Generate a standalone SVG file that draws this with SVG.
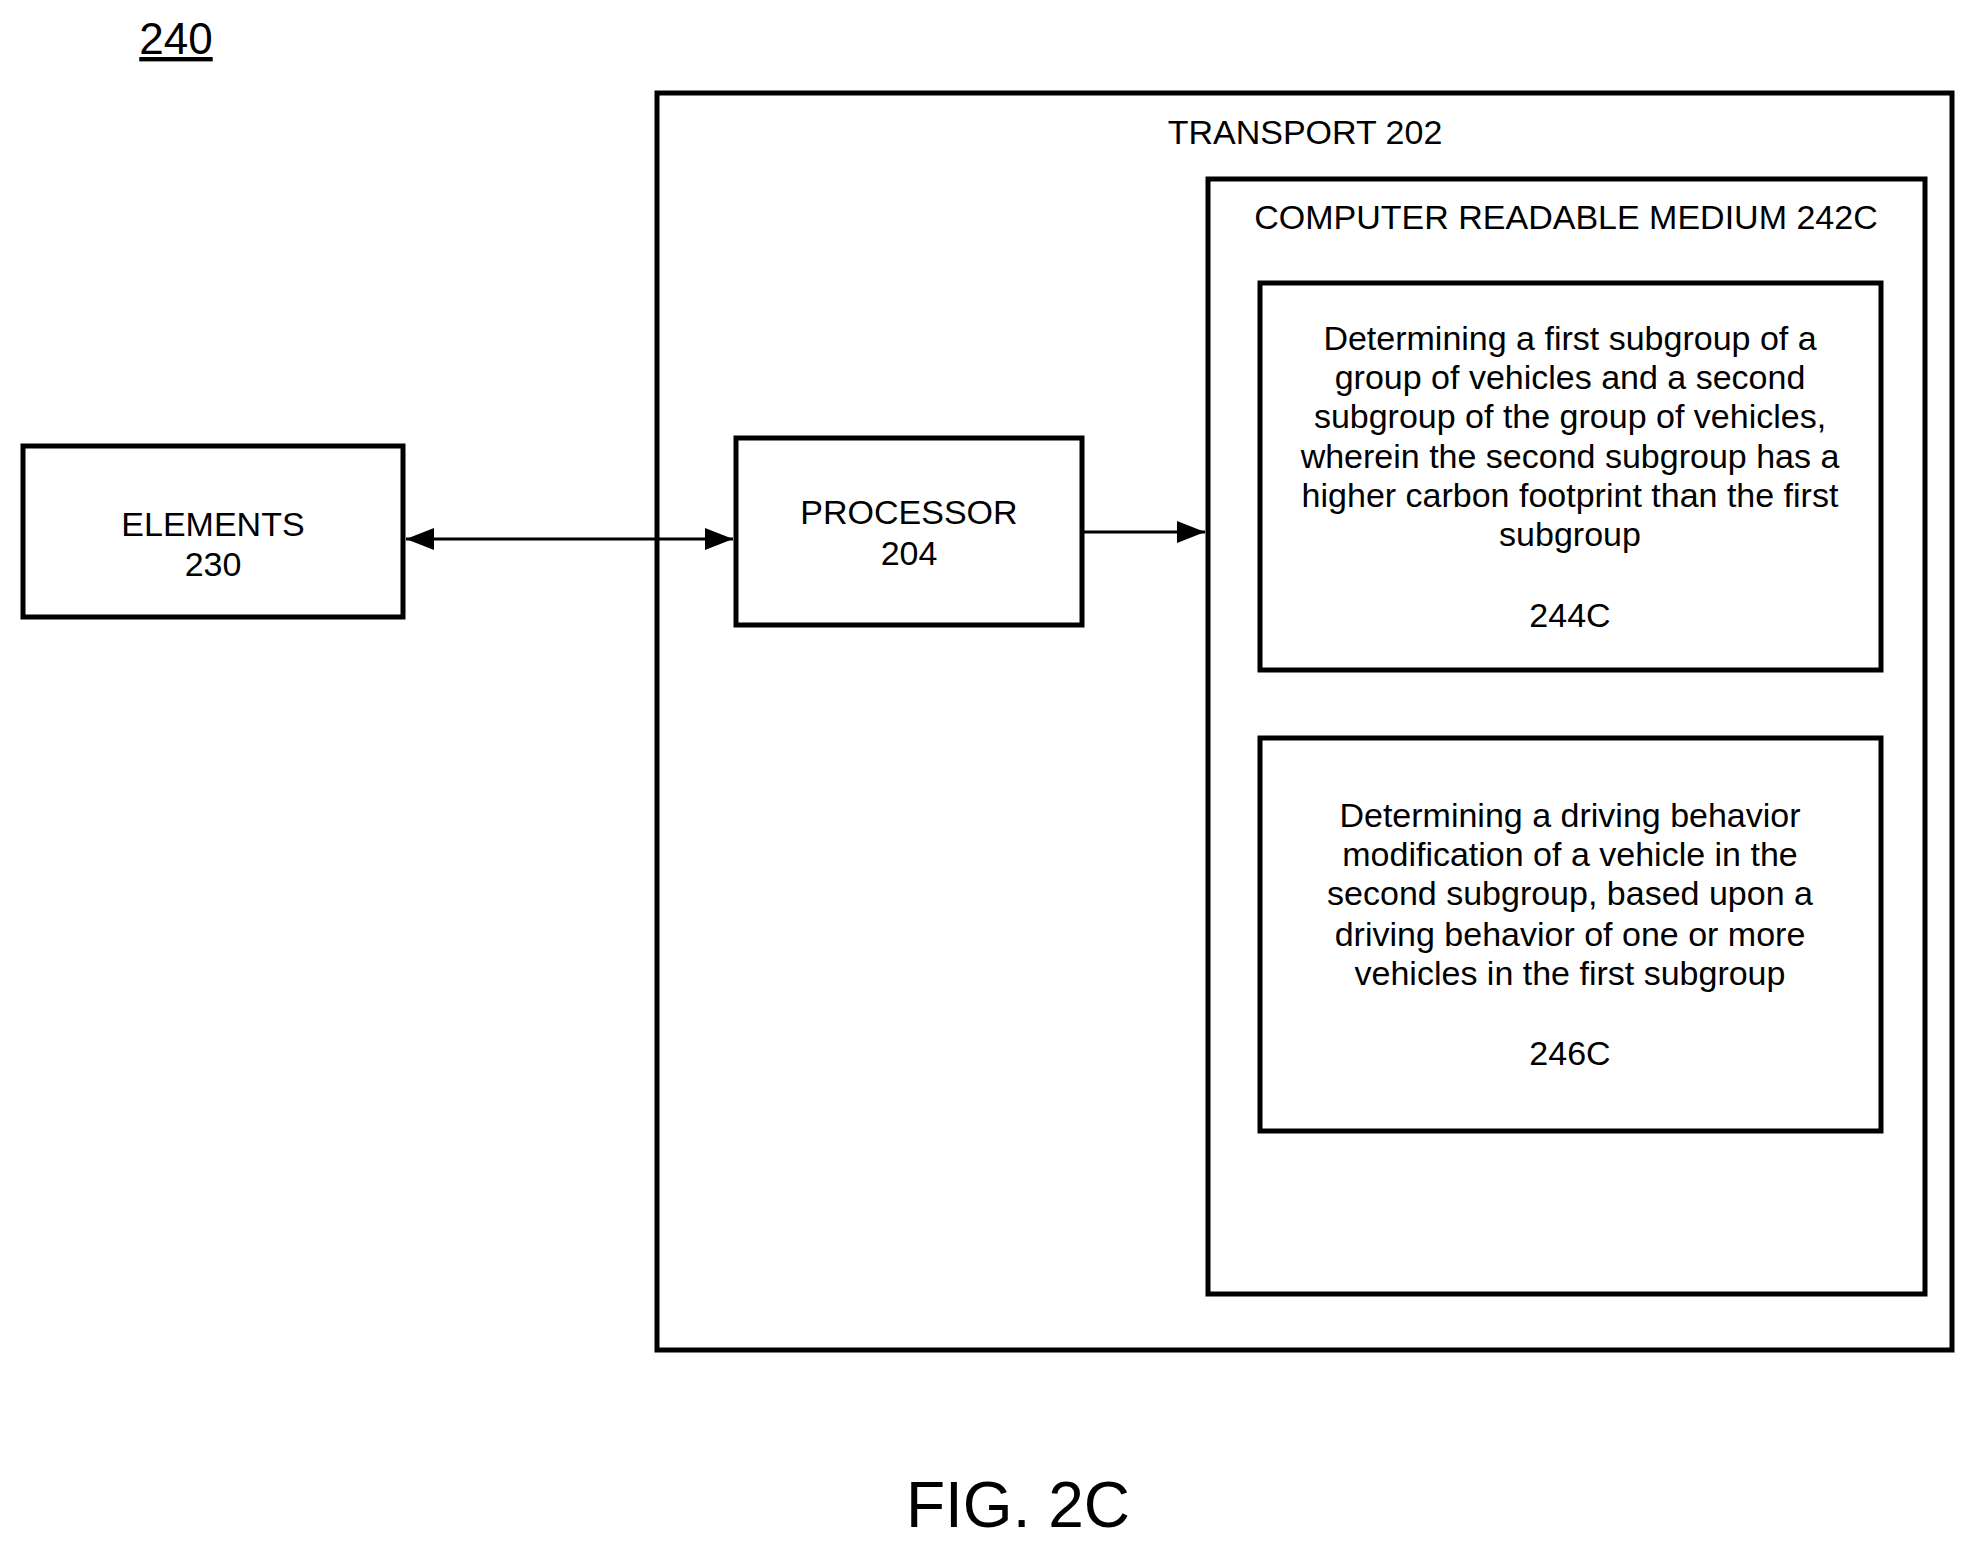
<svg xmlns="http://www.w3.org/2000/svg" width="1975" height="1553" viewBox="0 0 1975 1553">
<style>
.b{fill:#fff;stroke:#000;stroke-width:5}
text{font-family:"Liberation Sans",Arial,sans-serif;font-size:34px;fill:#000;text-anchor:middle}
.c{stroke:#000;stroke-width:3;fill:none}
</style>
<defs>
<marker id="a" viewBox="0 0 10 10" refX="10" refY="5" markerWidth="10" markerHeight="10" markerUnits="userSpaceOnUse" orient="auto-start-reverse"><path d="M0,1L10,5L0,9z" fill="#000"/></marker>
<marker id="m" viewBox="0 0 10 10" refX="10" refY="5" markerWidth="28" markerHeight="22" markerUnits="userSpaceOnUse" orient="auto-start-reverse" preserveAspectRatio="none"><path d="M0,0L10,5L0,10z" fill="#000"/></marker>
</defs>
<rect width="1975" height="1553" fill="#fff"/>
<text x="176" y="54" style="font-size:44px;text-decoration:underline" fill="#444">240</text>
<g id="transport"><rect class="b" x="657" y="93" width="1295" height="1257"/><text x="1305" y="144">TRANSPORT 202</text></g>
<g id="crm"><rect class="b" x="1208" y="179" width="717" height="1115"/><text x="1566" y="229">COMPUTER READABLE MEDIUM 242C</text></g>
<g id="n244"><rect class="b" x="1260" y="283" width="621" height="387"/>
<text x="1570" y="350">Determining a first subgroup of a</text>
<text x="1570" y="389">group of vehicles and a second</text>
<text x="1570" y="428">subgroup of the group of vehicles,</text>
<text x="1570" y="468">wherein the second subgroup has a</text>
<text x="1570" y="507">higher carbon footprint than the first</text>
<text x="1570" y="546">subgroup</text>
<text x="1570" y="627">244C</text></g>
<g id="n246"><rect class="b" x="1260" y="738" width="621" height="393"/>
<text x="1570" y="827">Determining a driving behavior</text>
<text x="1570" y="866">modification of a vehicle in the</text>
<text x="1570" y="905">second subgroup, based upon a</text>
<text x="1570" y="946">driving behavior of one or more</text>
<text x="1570" y="985">vehicles in the first subgroup</text>
<text x="1570" y="1065" fill="#333">246C</text></g>
<g id="elements"><rect class="b" x="23" y="446" width="380" height="171"/><text x="213" y="536">ELEMENTS</text><text x="213" y="576">230</text></g>
<g id="processor"><rect class="b" x="736" y="438" width="346" height="187"/><text x="909" y="524">PROCESSOR</text><text x="909" y="565">204</text></g>
<g id="connectors">
<line class="c" x1="406" y1="539" x2="733" y2="539" marker-start="url(#m)" marker-end="url(#m)"/>
<line class="c" x1="1084" y1="532" x2="1205" y2="532" marker-end="url(#m)"/>
</g>
<text x="1018" y="1527" style="font-size:64px" fill="#333">FIG. 2C</text>
</svg>
